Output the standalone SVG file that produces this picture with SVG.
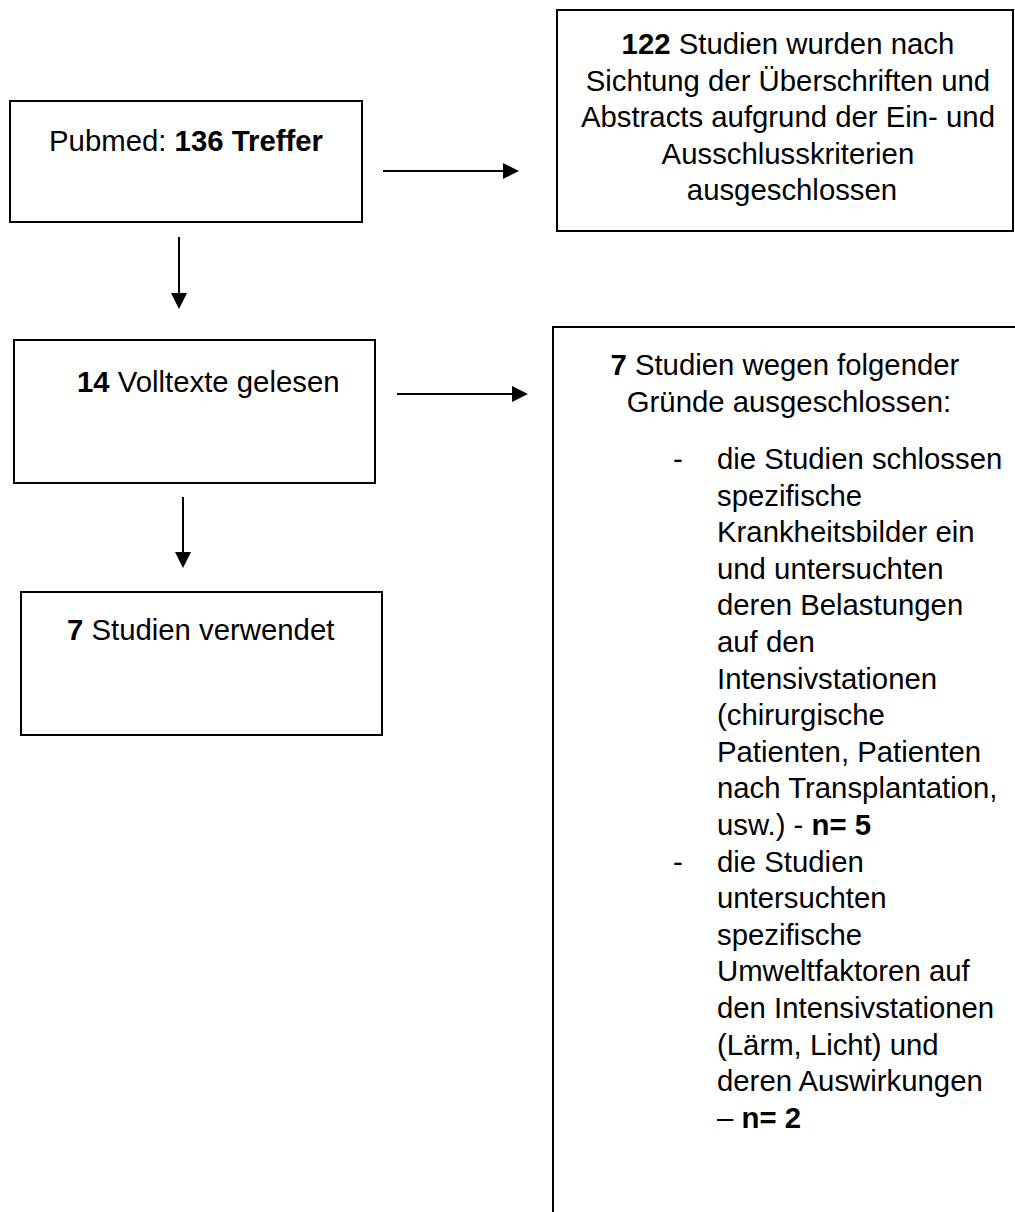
<svg xmlns="http://www.w3.org/2000/svg" width="1015" height="1212" viewBox="0 0 1015 1212">
<style>
.box{fill:#fff;stroke:#000;stroke-width:2}
.t{font-family:"Liberation Sans",Arial,sans-serif;font-size:29.33px;fill:#000}
.b{font-weight:bold}
.c{text-anchor:middle}
.conn line{stroke:#000;stroke-width:2;marker-end:url(#ah)}
</style>
<defs>
<marker id="ah" viewBox="0 0 16 16" refX="1" refY="8" markerWidth="16" markerHeight="16" markerUnits="userSpaceOnUse" orient="auto">
<path d="M0,0 L16,8 L0,16 z" fill="#000"/>
</marker>
</defs>
<rect width="1015" height="1212" fill="#fff"/>
<g id="pubmed">
<rect class="box" x="10" y="101" width="352" height="121"/>
<text class="t c" x="186" y="151">Pubmed: <tspan class="b">136 Treffer</tspan></text>
</g>
<g id="excluded122">
<rect class="box" x="557" y="10" width="456" height="221"/>
<text class="t c">
<tspan x="792" y="54"><tspan class="b">122</tspan> Studien wurden nach</tspan>
<tspan x="792" y="90.6">Sichtung der Überschriften und</tspan>
<tspan x="792" y="127.2">Abstracts aufgrund der Ein- und</tspan>
<tspan x="792" y="163.8">Ausschlusskriterien</tspan>
<tspan x="792" y="200.4">ausgeschlossen</tspan>
</text>
</g>
<g id="volltexte">
<rect class="box" x="14" y="340" width="361" height="143"/>
<text class="t" x="77" y="392"><tspan class="b">14</tspan> Volltexte gelesen</text>
</g>
<g id="excluded7">
<rect class="box" x="553" y="327" width="500" height="950"/>
<text class="t c">
<tspan x="789" y="375"><tspan class="b">7</tspan> Studien wegen folgender</tspan>
<tspan x="789" y="412">Gründe ausgeschlossen:</tspan>
</text>
<text class="t" x="673" y="469">-</text>
<text class="t" x="673" y="871.6">-</text>
<text class="t">
<tspan x="717" y="469">die Studien schlossen</tspan>
<tspan x="717" y="505.6">spezifische</tspan>
<tspan x="717" y="542.2">Krankheitsbilder ein</tspan>
<tspan x="717" y="578.8">und untersuchten</tspan>
<tspan x="717" y="615.4">deren Belastungen</tspan>
<tspan x="717" y="652">auf den</tspan>
<tspan x="717" y="688.6">Intensivstationen</tspan>
<tspan x="717" y="725.2">(chirurgische</tspan>
<tspan x="717" y="761.8">Patienten, Patienten</tspan>
<tspan x="717" y="798.4">nach Transplantation,</tspan>
<tspan x="717" y="835">usw.) - <tspan class="b">n= 5</tspan></tspan>
<tspan x="717" y="871.6">die Studien</tspan>
<tspan x="717" y="908.2">untersuchten</tspan>
<tspan x="717" y="944.8">spezifische</tspan>
<tspan x="717" y="981.4">Umweltfaktoren auf</tspan>
<tspan x="717" y="1018">den Intensivstationen</tspan>
<tspan x="717" y="1054.6">(Lärm, Licht) und</tspan>
<tspan x="717" y="1091.2">deren Auswirkungen</tspan>
<tspan x="717" y="1127.8">– <tspan class="b">n= 2</tspan></tspan>
</text>
</g>
<g id="verwendet">
<rect class="box" x="21" y="592" width="361" height="143"/>
<text class="t" x="67" y="640"><tspan class="b">7</tspan> Studien verwendet</text>
</g>
<g id="connectors" class="conn">
<line x1="383" y1="171" x2="504" y2="171"/>
<line x1="179" y1="237" x2="179" y2="294"/>
<line x1="397" y1="394" x2="513" y2="394"/>
<line x1="183" y1="497" x2="183" y2="553"/>
</g>
</svg>
